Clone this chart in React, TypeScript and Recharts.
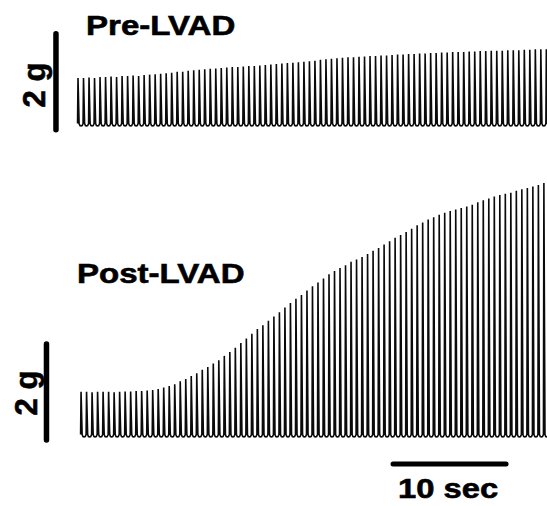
import React from "react";
import { LineChart, Line, XAxis, YAxis, ReferenceLine } from "recharts";

// Peak twitch force (g) of each contraction
const prePeaks: number[] = [
  1.0, 1.0, 1.01, 1.0, 1.02, 1.02, 1.03, 1.02, 1.04, 1.04,
  1.05, 1.04, 1.06, 1.07, 1.08, 1.09, 1.1, 1.11, 1.13, 1.13,
  1.15, 1.16, 1.17, 1.18, 1.19, 1.2, 1.21, 1.22, 1.23, 1.23,
  1.24, 1.25, 1.25, 1.26, 1.27, 1.28, 1.29, 1.3, 1.31, 1.32,
  1.33, 1.34, 1.35, 1.36, 1.38, 1.39, 1.4, 1.41, 1.42, 1.43,
  1.43, 1.44, 1.45, 1.46, 1.46, 1.47, 1.47, 1.48, 1.49, 1.49,
  1.5, 1.5, 1.51, 1.51, 1.52, 1.52, 1.53, 1.53, 1.54, 1.54,
  1.54, 1.55, 1.55, 1.56, 1.56, 1.57, 1.57, 1.57, 1.58, 1.58,
  1.58, 1.59, 1.59, 1.6, 1.6, 1.6,
];

const postPeaks: number[] = [
  0.94, 0.94, 0.93, 0.94, 0.94, 0.94, 0.93, 0.94, 0.95, 0.95,
  0.96, 0.96, 0.97, 0.98, 1.0, 1.03, 1.06, 1.1, 1.16, 1.21,
  1.27, 1.33, 1.4, 1.46, 1.53, 1.6, 1.69, 1.77, 1.86, 1.96,
  2.05, 2.15, 2.25, 2.33, 2.42, 2.51, 2.6, 2.7, 2.79, 2.88,
  2.96, 3.05, 3.14, 3.22, 3.3, 3.39, 3.46, 3.52, 3.58, 3.65,
  3.7, 3.75, 3.81, 3.88, 3.94, 4.01, 4.08, 4.15, 4.21, 4.27,
  4.34, 4.41, 4.47, 4.53, 4.58, 4.63, 4.67, 4.71, 4.74, 4.77,
  4.8, 4.84, 4.89, 4.93, 4.97, 5.01, 5.04, 5.07, 5.09, 5.13,
  5.16, 5.19, 5.22, 5.25, 5.29,
];

const titles = ["Pre-LVAD", "Post-LVAD"];
const forceScaleLabel = "2 g";
const timeScaleLabel = "10 sec";
const FORCE_SCALE_G = 2;
const TIME_SCALE_SEC = 10;
const PERIOD_SEC = 0.4876; // stimulation interval
const PRE_START_SEC = 0;
const POST_START_SEC = 0.27;

// Layout
const W = 547;
const H = 506;
const PX_PER_SEC = 11.3;
const PX_PER_G = 48;
const X_ORIGIN = 78;
const PRE_BASE = 126;
const POST_BASE = 437;

const X_MIN = -X_ORIGIN / PX_PER_SEC;
const X_MAX = (W - X_ORIGIN) / PX_PER_SEC;
const PRE_DOMAIN: [number, number] = [-(H - PRE_BASE) / PX_PER_G, PRE_BASE / PX_PER_G];
const POST_DOMAIN: [number, number] = [-(H - POST_BASE) / PX_PER_G, POST_BASE / PX_PER_G];

function buildWave(peaks: number[], start: number) {
  const pts: { t: number; v: number }[] = [];
  peaks.forEach((p, i) => {
    const tp = start + i * PERIOD_SEC;
    pts.push({ t: tp - 0.08 * PERIOD_SEC, v: 0.05 });
    pts.push({ t: tp, v: p });
    pts.push({ t: tp + 0.2 * PERIOD_SEC, v: 0.05 });
    pts.push({ t: tp + 0.35 * PERIOD_SEC, v: 0.01 });
    pts.push({ t: tp + 0.55 * PERIOD_SEC, v: 0 });
    pts.push({ t: tp + 0.75 * PERIOD_SEC, v: 0.01 });
  });
  return pts;
}

const preWave = buildWave(prePeaks, PRE_START_SEC);
const postWave = buildWave(postPeaks, POST_START_SEC);

const textStyle: React.CSSProperties = {
  fontFamily: "'Liberation Sans', Arial, Helvetica, sans-serif",
  fontWeight: 700,
};

export default function App() {
  const preBarT = -1.95;
  const postBarT = -2.79;
  const timeBarStart = 27.88;
  return (
    <div style={{ position: "absolute", left: 0, top: 0, width: W, height: H, background: "#fff" }}>
      <LineChart width={W} height={H} margin={{ top: 0, right: 0, bottom: 0, left: 0 }}>
        <XAxis type="number" dataKey="t" domain={[X_MIN, X_MAX]} hide allowDataOverflow />
        <YAxis yAxisId="pre" type="number" domain={PRE_DOMAIN} hide allowDataOverflow />
        <YAxis yAxisId="post" type="number" domain={POST_DOMAIN} hide allowDataOverflow />
        <Line
          yAxisId="pre"
          data={preWave}
          dataKey="v"
          type="linear"
          dot={false}
          activeDot={false}
          stroke="#0a0a0a"
          strokeWidth={1.6}
          isAnimationActive={false}
        />
        <Line
          yAxisId="post"
          data={postWave}
          dataKey="v"
          type="linear"
          dot={false}
          activeDot={false}
          stroke="#0a0a0a"
          strokeWidth={1.6}
          isAnimationActive={false}
        />
        <ReferenceLine
          yAxisId="pre"
          segment={[
            { x: preBarT, y: -0.08 },
            { x: preBarT, y: -0.08 + FORCE_SCALE_G },
          ]}
          stroke="#000"
          strokeWidth={5.5}
          strokeLinecap="round"
          ifOverflow="visible"
        />
        <ReferenceLine
          yAxisId="post"
          segment={[
            { x: postBarT, y: -0.06 },
            { x: postBarT, y: -0.06 + FORCE_SCALE_G },
          ]}
          stroke="#000"
          strokeWidth={5.5}
          strokeLinecap="round"
          ifOverflow="visible"
        />
        <ReferenceLine
          yAxisId="post"
          segment={[
            { x: timeBarStart, y: -0.5625 },
            { x: timeBarStart + TIME_SCALE_SEC, y: -0.5625 },
          ]}
          stroke="#000"
          strokeWidth={5}
          strokeLinecap="round"
          ifOverflow="visible"
        />
      </LineChart>
      <svg
        width={W}
        height={H}
        style={{ position: "absolute", left: 0, top: 0, pointerEvents: "none" }}
      >
        <text
          transform="translate(86,35) scale(1.18,1)"
          fontSize={28}
          fill="#000"
          stroke="#000"
          strokeWidth={0.6}
          style={textStyle}
        >
          {titles[0]}
        </text>
        <text
          transform="translate(77,283) scale(1.18,1)"
          fontSize={28}
          fill="#000"
          stroke="#000"
          strokeWidth={0.6}
          style={textStyle}
        >
          {titles[1]}
        </text>
        <text
          transform="translate(398,498) scale(1.17,1)"
          fontSize={28}
          fill="#000"
          stroke="#000"
          strokeWidth={0.6}
          style={textStyle}
        >
          {timeScaleLabel}
        </text>
        <text
          transform="translate(45,85) rotate(-90)"
          textAnchor="middle"
          fontSize={31}
          fill="#000"
          stroke="#000"
          strokeWidth={0.6}
          style={textStyle}
        >
          {forceScaleLabel}
        </text>
        <text
          transform="translate(37,393) rotate(-90)"
          textAnchor="middle"
          fontSize={31}
          fill="#000"
          stroke="#000"
          strokeWidth={0.6}
          style={textStyle}
        >
          {forceScaleLabel}
        </text>
      </svg>
    </div>
  );
}
